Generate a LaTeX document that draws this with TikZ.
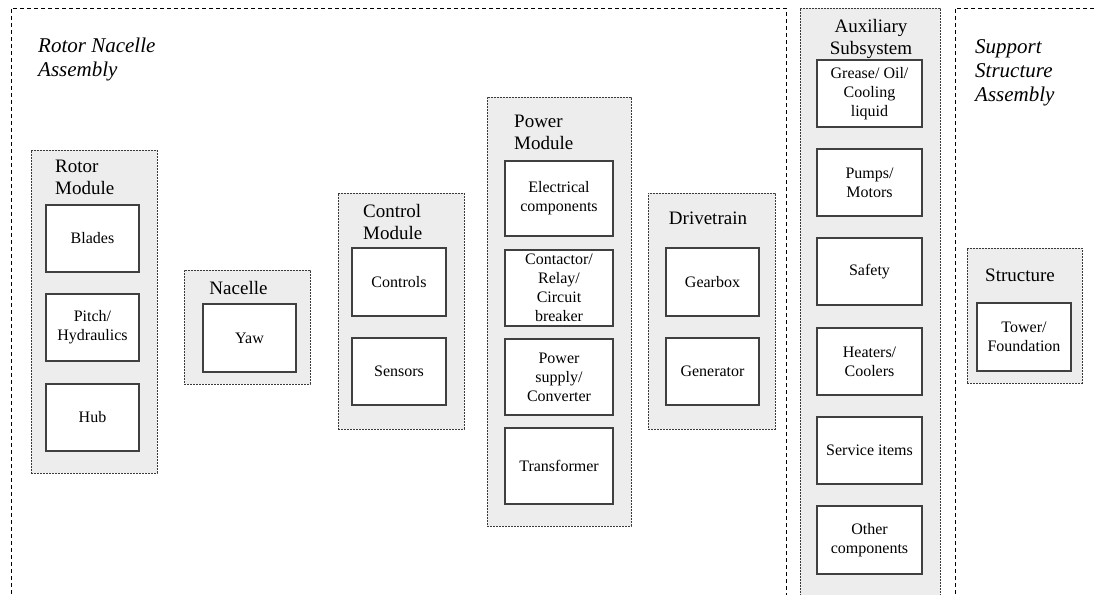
\documentclass[tikz,border=0pt]{standalone}
\usepackage{fontspec}
\setmainfont{LiberationSerif}[Extension=.ttf, UprightFont=*-Regular, ItalicFont=*-Italic, BoldFont=*-Bold]
\newfontfamily\tmsfont{LiberationSerif}[Extension=.ttf, UprightFont=*-Regular, ItalicFont=*-Italic, BoldFont=*-Bold]
\definecolor{modfill}{HTML}{EDEDED}
\definecolor{modline}{HTML}{3A3A3A}
\definecolor{boxline}{HTML}{404040}
\tikzset{
  frame/.style={draw=black, line width=0.8pt, dash pattern=on 4pt off 3pt, inner sep=0pt},
  module/.style={draw=modline, fill=modfill, line width=0.8pt, dash pattern=on 2pt off 1pt, inner sep=0pt},
  inbox/.style={draw=boxline, fill=white, line width=1.2pt, inner sep=0pt, align=center,
    font=\tmsfont\fontsize{16}{19}\selectfont},
  modtitle/.style={inner sep=0pt, font=\tmsfont\fontsize{19}{22}\selectfont},
  asmtitle/.style={inner sep=0pt, align=left, font=\tmsfont\fontsize{21}{24}\selectfont\itshape},
}
\begin{document}
\begin{tikzpicture}[x=1pt,y=-1pt]
\useasboundingbox (0,0) rectangle (1094,594);
\clip (0,0) rectangle (1094,594);
\fill[white] (0,0) rectangle (1094,594);
% assembly frames
\node[frame, minimum width=775, minimum height=640] (rna) at (398.5,328) {};
\node[frame, minimum width=180, minimum height=640] (ssa) at (1045,328) {};
\node[asmtitle, anchor=north west] (rnat) at (38,38) {Rotor Nacelle\\Assembly};
\node[asmtitle, anchor=north west] (ssat) at (975,39) {Support\\Structure\\Assembly};
% Rotor module
\node[module, minimum width=126, minimum height=323] (rotor) at (94,311.5) {};
\node[modtitle, align=left, anchor=north west] (rotort) at (55,160) {Rotor\\Module};
\node[inbox, minimum width=93, minimum height=67] (blades) at (92.5,238.5) {Blades};
\node[inbox, minimum width=93, minimum height=67] (pitch) at (92.5,327.5) {Pitch/\\Hydraulics};
\node[inbox, minimum width=93, minimum height=67] (hub) at (92.5,417.5) {Hub};
% Nacelle
\node[module, minimum width=126, minimum height=114] (nacelle) at (247,327) {};
\node[modtitle, anchor=north] (nacellet) at (238.5,281) {Nacelle};
\node[inbox, minimum width=93, minimum height=68] (yaw) at (249.5,338) {Yaw};
% Control module
\node[module, minimum width=126, minimum height=236] (control) at (401,311) {};
\node[modtitle, align=left, anchor=north west] (controlt) at (363,204) {Control\\Module};
\node[inbox, minimum width=94, minimum height=68] (controls) at (399,282) {Controls};
\node[inbox, minimum width=94, minimum height=67] (sensors) at (399,371.5) {Sensors};
% Power module
\node[module, minimum width=144, minimum height=429] (power) at (559,311.5) {};
\node[modtitle, align=left, anchor=north west] (powert) at (514,115) {Power\\Module};
\node[inbox, minimum width=108, minimum height=75] (elec) at (559,198.5) {Electrical\\components};
\node[inbox, minimum width=108, minimum height=76] (contactor) at (559,288) {Contactor/\\Relay/\\Circuit\\breaker};
\node[inbox, minimum width=108, minimum height=76] (supply) at (559,377) {Power\\supply/\\Converter};
\node[inbox, minimum width=108, minimum height=76] (transformer) at (559,466) {Transformer};
% Drivetrain
\node[module, minimum width=127, minimum height=236] (drive) at (711.5,311) {};
\node[modtitle, anchor=north] (drivet) at (708,212) {Drivetrain};
\node[inbox, minimum width=93, minimum height=68] (gearbox) at (712.5,282) {Gearbox};
\node[inbox, minimum width=93, minimum height=67] (generator) at (712.5,371.5) {Generator};
% Auxiliary subsystem
\node[module, minimum width=140, minimum height=640] (aux) at (870,328) {};
\node[modtitle, align=center, anchor=north] (auxt) at (871,19) {Auxiliary\\Subsystem};
\node[inbox, minimum width=105, minimum height=67] (grease) at (869.5,93.5) {Grease/ Oil/\\Cooling\\liquid};
\node[inbox, minimum width=105, minimum height=67] (pumps) at (869.5,182.5) {Pumps/\\Motors};
\node[inbox, minimum width=105, minimum height=67] (safety) at (869.5,271.5) {Safety};
\node[inbox, minimum width=105, minimum height=67] (heaters) at (869.5,361.5) {Heaters/\\Coolers};
\node[inbox, minimum width=105, minimum height=67] (service) at (869.5,450.5) {Service items};
\node[inbox, minimum width=105, minimum height=68] (other) at (869.5,540) {Other\\components};
% Structure
\node[module, minimum width=115, minimum height=135] (structure) at (1024.5,315.5) {};
\node[modtitle, anchor=north] (structuret) at (1020,269) {Structure};
\node[inbox, minimum width=94, minimum height=68] (tower) at (1024,337) {Tower/\\Foundation};
\end{tikzpicture}
\end{document}
